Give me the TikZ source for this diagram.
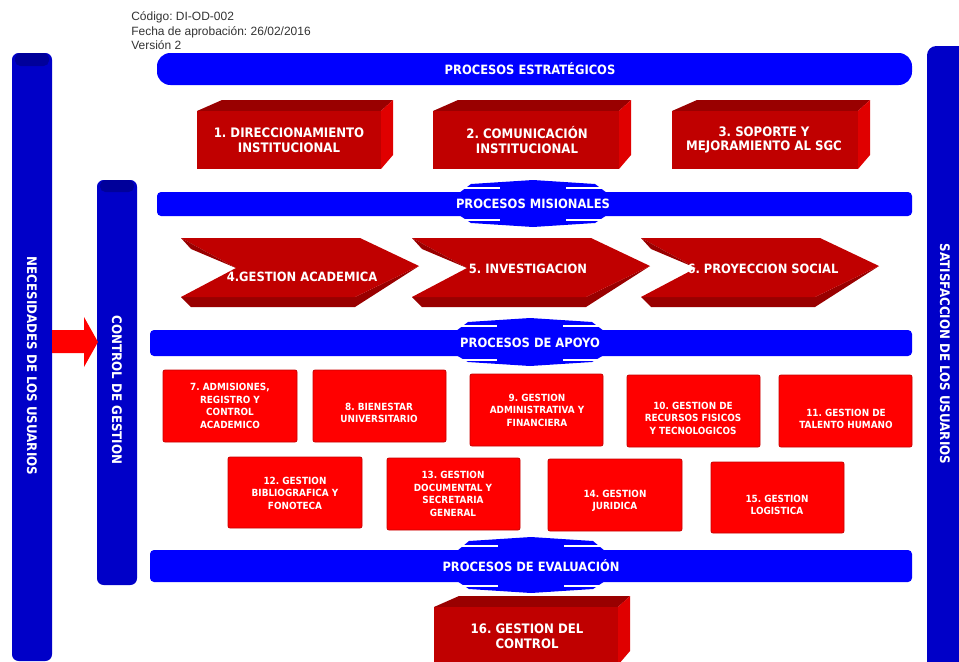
\documentclass[tikz,border=0pt]{standalone}
\usepackage{fontspec}
\setmainfont{Liberation Sans}
\newfontfamily\cond{DejaVu Sans Condensed}[BoldFont={DejaVu Sans Condensed Bold}]
\usetikzlibrary{calc}
\frenchspacing
\definecolor{bannerblue}{HTML}{0000FF}
\definecolor{barblue}{HTML}{0000C8}
\definecolor{capblue}{HTML}{00009A}
\definecolor{boxfront}{HTML}{C00000}
\definecolor{boxtop}{HTML}{990000}
\definecolor{boxside}{HTML}{E00000}
\definecolor{rowred}{HTML}{FF0000}
\definecolor{rowedge}{HTML}{C80000}
\definecolor{hdrgray}{HTML}{333333}
\tikzset{
  banner/.style={fill=bannerblue},
  bar/.style={fill=barblue},
  btxt/.style={text=white, font=\cond\bfseries\fontsize{9.6}{10}\selectfont, inner sep=0},
  vtxt/.style={text=white, font=\cond\bfseries\fontsize{9.9}{10}\selectfont, rotate=-90, inner sep=0},
  boxtxt/.style={text=white, font=\cond\bfseries\fontsize{9.8}{11}\selectfont, align=center, inner sep=0},
  chtxt/.style={text=white, font=\cond\bfseries\fontsize{9.6}{11}\selectfont, inner sep=0},
  rowtxt/.style={text=white, font=\cond\bfseries\fontsize{7.4}{9.4}\selectfont, align=center, inner sep=0},
  rowbox/.style={fill=rowred, draw=rowedge, line width=0.6pt, rounded corners=1.5pt},
  hdr/.style={text=hdrgray, font=\fontsize{9}{10.5}\selectfont, anchor=base west, inner sep=0},
  gap/.style={draw=white, line width=1.1pt},
}
\newcommand\boxthreed[4]{%
  \fill[boxtop] (#1,#3) -- (#1+25,#3-11) -- (#2+12,#3-11) -- (#2,#3) -- cycle;
  \fill[boxside] (#2,#3) -- (#2+12,#3-11) -- (#2+12,#4-14) -- (#2,#4) -- cycle;
  \fill[boxfront] (#1,#3) rectangle (#2,#4);
}
\newcommand\chevron[1]{%
  \fill[boxtop] (#1,297) -- (#1+10,307) -- (#1+174,307) -- (#1+238,266) -- (#1+174,297) -- cycle;
  \fill[boxfront] (#1,238) -- (#1+179,238) -- (#1+238,266) -- (#1+174,297) -- (#1,297) -- (#1+55,268) -- cycle;
  \fill[boxtop] (#1,238) -- (#1+55,268) -- (#1+10,249) -- cycle;
}
\newcommand\dblarrow[5]{%
  \fill[banner] (#1-74,#3+1) -- (#1-62,#2+4) -- (#1,#2) -- (#1+62,#2+4) -- (#1+74,#3+1)
    -- (#1+74,#4-1) -- (#1+62,#5-4) -- (#1,#5) -- (#1-62,#5-4) -- (#1-74,#4-1) -- cycle;
}
\newcommand\gaplines[3]{%
  \draw[gap] (#1-74,#2) -- (#1-33,#2) (#1+33,#2) -- (#1+74,#2);
  \draw[gap] (#1-74,#3) -- (#1-33,#3) (#1+33,#3) -- (#1+74,#3);
}
\begin{document}
\begin{tikzpicture}[x=0.75pt,y=-0.75pt]
\useasboundingbox (0,0) rectangle (959,661);
\begin{scope}
\clip (0,0) rectangle (959,661);

% header
\node[hdr] (cod) at (131,20) {Código: DI-OD-002};
\node[hdr] (fecha) at (131,35) {Fecha de aprobación: 26/02/2016};
\node[hdr] (ver) at (131,49) {Versión 2};

% side bars
\fill[bar, rounded corners=5] (12,53) rectangle (52,661);
\fill[capblue, rounded corners=4] (15,53) rectangle (49,66);
\fill[bar, rounded corners=5] (97,180) rectangle (137,585);
\fill[capblue, rounded corners=4] (100,180) rectangle (134,192);
\fill[bar, rounded corners=7] (927,46) rectangle (975,675);
\node[vtxt] (nec) at (32,366) {NECESIDADES DE LOS USUARIOS};
\node[vtxt] (ctl) at (117,390) {CONTROL DE GESTION};
\node[vtxt] (sat) at (945,354) {SATISFACCION DE LOS USUARIOS};
\coordinate (necE) at (52,342);
\coordinate (ctlW) at (98,342);
\fill[rowred] ($(necE)+(0,-12)$) -- ($(ctlW)+(-14,-12)$) -- ($(ctlW)+(-14,-25)$) -- (ctlW)
  -- ($(ctlW)+(-14,25)$) -- ($(ctlW)+(-14,11)$) -- ($(necE)+(0,11)$) -- cycle;

% banners
\fill[banner, rounded corners=10] (157,53) rectangle (912,85);
\node[btxt] (pe) at (530,69) {PROCESOS ESTRATÉGICOS};

\dblarrow{533}{180}{192}{216}{227}
\fill[banner, rounded corners=3] (157,192) rectangle (912,216);
\gaplines{533}{188}{220}
\node[btxt] (pm) at (533,204) {PROCESOS MISIONALES};

\dblarrow{530}{318}{330}{356}{366}
\fill[banner, rounded corners=3] (150,330) rectangle (912,356);
\gaplines{530}{326}{360}
\node[btxt] (pa) at (530,343) {PROCESOS DE APOYO};

\dblarrow{531}{537}{550}{582}{593}
\fill[banner, rounded corners=3] (150,550) rectangle (912,582);
\gaplines{531}{546}{586}
\node[btxt] (pev) at (531,566) {PROCESOS DE EVALUACIÓN};

% strategic boxes
\boxthreed{197}{381}{111}{169}
\node[boxtxt] (b1) at (289,140) {1. DIRECCIONAMIENTO\\INSTITUCIONAL};
\boxthreed{433}{619}{111}{169}
\node[boxtxt] (b2) at (527,140) {2. COMUNICACIÓN\\INSTITUCIONAL};
\boxthreed{672}{858}{111}{169}
\node[boxtxt] (b3) at (764,140) {3. SOPORTE Y\\MEJORAMIENTO AL SGC};

% chevrons
\chevron{181}
\chevron{412}
\chevron{641}
\node[chtxt] (c4) at (302,277) {4.GESTION ACADEMICA};
\node[chtxt] (c5) at (528,269) {5. INVESTIGACION};
\node[chtxt] (c6) at (763,269) {6. PROYECCION SOCIAL};

% support boxes
\fill[rowbox] (163,370) rectangle (297,442);
\node[rowtxt] (s7) at (230,406) {7. ADMISIONES,\\REGISTRO Y\\CONTROL\\ACADEMICO};
\fill[rowbox] (313,370) rectangle (446,442);
\node[rowtxt] (s8) at (379,413) {8. BIENESTAR\\UNIVERSITARIO};
\fill[rowbox] (470,374) rectangle (603,446);
\node[rowtxt] (s9) at (537,410) {9. GESTION\\ADMINISTRATIVA Y\\FINANCIERA};
\fill[rowbox] (627,375) rectangle (760,447);
\node[rowtxt] (s10) at (693,418) {10. GESTION DE\\RECURSOS FISICOS\\Y TECNOLOGICOS};
\fill[rowbox] (779,375) rectangle (912,447);
\node[rowtxt] (s11) at (846,419) {11. GESTION DE\\TALENTO HUMANO};
\fill[rowbox] (228,457) rectangle (362,528);
\node[rowtxt] (s12) at (295,493) {12. GESTION\\BIBLIOGRAFICA Y\\FONOTECA};
\fill[rowbox] (387,458) rectangle (520,530);
\node[rowtxt] (s13) at (453,494) {13. GESTION\\DOCUMENTAL Y\\SECRETARIA\\GENERAL};
\fill[rowbox] (548,459) rectangle (682,531);
\node[rowtxt] (s14) at (615,501) {14. GESTION\\JURIDICA};
\fill[rowbox] (711,462) rectangle (844,533);
\node[rowtxt] (s15) at (777,505) {15. GESTION\\LOGISTICA};

% evaluation box
\boxthreed{434}{618}{607}{665}
\node[boxtxt] (b16) at (527,636) {16. GESTION DEL\\CONTROL};
\end{scope}
\end{tikzpicture}
\end{document}
